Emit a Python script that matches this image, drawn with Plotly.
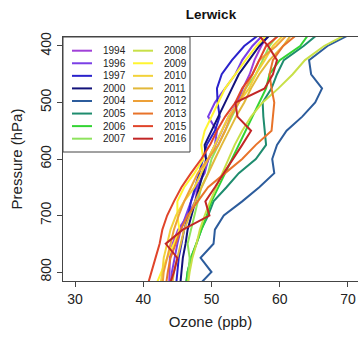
import plotly.graph_objects as go

pressure = [375, 400, 425, 450, 475, 500, 525, 550, 575, 600, 625, 650, 675, 700, 725, 750, 775, 800, 825]

years = ["1994", "1996", "1997", "2000", "2004", "2005", "2006", "2007",
         "2008", "2009", "2010", "2011", "2012", "2013", "2015", "2016"]

colors = ["#A040D8", "#7A3FE6", "#2A22CC", "#12127A", "#2C5C9C", "#1E8C6E", "#33D433", "#8EE35E",
          "#C8E048", "#FFF530", "#F2D23A", "#E2B83A", "#EDA038", "#E8732A", "#E0442A", "#C22626"]

o3_1994 = [58.5, 57.3, 56.3, 55.6, 54.6, 53.8, 52.5, 51.5, 50.5, 49.6, 48.8, 48.0, 47.6, 46.5, 45.1, 44.3, 43.9, 43.9, 43.8]
o3_1996 = [58.0, 56.0, 54.5, 53.5, 52.0, 50.5, 49.5, 50.8, 50.5, 49.5, 49.0, 47.8, 47.0, 46.2, 45.5, 45.0, 44.6, 44.2, 44.0]
o3_1997 = [57.5, 54.8, 53.0, 51.5, 50.8, 50.9, 51.2, 50.5, 49.3, 48.8, 48.2, 47.6, 47.0, 46.6, 46.0, 45.6, 45.2, 45.0, 44.8]
o3_2000 = [59.0, 57.0, 55.5, 54.0, 53.0, 52.0, 51.0, 50.0, 49.0, 49.2, 48.8, 48.2, 47.6, 47.0, 46.5, 46.2, 45.8, 45.6, 45.4]
o3_2004 = [71.0, 67.0, 64.3, 64.6, 66.2, 65.2, 63.3, 61.0, 59.6, 58.9, 59.2, 57.0, 54.5, 51.8, 50.5, 50.3, 48.4, 50.0, 48.0]
o3_2005 = [66.0, 63.5, 60.6, 59.6, 58.8, 57.5, 57.6, 57.8, 58.0, 56.5, 54.0, 52.2, 50.3, 49.5, 48.5, 47.8, 47.0, 46.5, 46.2]
o3_2006 = [64.5, 63.0, 60.0, 58.5, 58.0, 57.0, 56.0, 55.0, 54.0, 53.0, 52.0, 51.0, 50.0, 49.3, 48.5, 47.8, 47.0, 46.5, 46.3]
o3_2007 = [60.0, 58.5, 57.5, 56.5, 55.0, 54.0, 53.0, 52.0, 51.0, 50.0, 49.5, 48.5, 48.0, 47.5, 47.0, 46.5, 46.8, 46.6, 46.5]
o3_2008 = [70.5, 66.5, 63.7, 61.9, 59.8, 57.5, 55.8, 54.5, 53.4, 52.5, 51.5, 50.6, 49.8, 49.0, 48.3, 47.8, 47.2, 46.8, 46.5]
o3_2009 = [58.5, 56.6, 55.0, 53.5, 52.0, 51.0, 50.0, 49.0, 48.5, 48.8, 47.5, 46.0, 45.0, 45.0, 45.3, 44.5, 43.5, 42.6, 41.8]
o3_2010 = [61.0, 59.0, 57.8, 56.5, 55.5, 54.0, 52.5, 51.5, 50.5, 49.5, 48.5, 47.5, 46.0, 44.8, 44.0, 43.5, 43.0, 42.8, 42.5]
o3_2011 = [62.0, 60.5, 58.5, 57.0, 55.8, 54.8, 53.6, 52.5, 51.5, 50.5, 49.5, 48.6, 47.6, 46.8, 46.0, 45.5, 45.0, 44.5, 44.2]
o3_2012 = [61.5, 59.5, 57.0, 56.0, 55.0, 54.0, 52.8, 52.0, 51.0, 49.5, 48.0, 47.0, 46.0, 45.2, 44.5, 44.0, 43.5, 43.0, 42.8]
o3_2013 = [63.0, 60.5, 59.0, 58.5, 58.8, 59.2, 59.0, 58.8, 56.5, 54.5, 52.0, 49.5, 48.0, 46.5, 45.5, 44.8, 44.0, 43.6, 43.3]
o3_2015 = [60.5, 58.0, 57.0, 56.0, 54.5, 53.5, 52.0, 50.8, 49.8, 48.5, 47.0, 45.6, 44.5, 43.5, 42.8, 42.4, 41.8, 41.2, 40.6]
o3_2016 = [56.5, 58.3, 59.6, 59.0, 57.8, 53.5, 53.8, 55.8, 54.5, 53.1, 51.8, 50.5, 49.1, 49.7, 45.8, 43.3, 45.0, 44.5, 43.8]

series = [o3_1994, o3_1996, o3_1997, o3_2000, o3_2004, o3_2005, o3_2006, o3_2007,
          o3_2008, o3_2009, o3_2010, o3_2011, o3_2012, o3_2013, o3_2015, o3_2016]

x_ticks = [30, 40, 50, 60, 70]
y_ticks = [400, 500, 600, 700, 800]

FONT = "Liberation Sans, Arial, sans-serif"

fig = go.Figure()
for yr, col, vals in zip(years, colors, series):
    fig.add_trace(go.Scatter(x=vals, y=pressure, mode="lines", name=yr,
                             line=dict(color=col, width=2), showlegend=False))

# Manual two-column legend (R style), positioned in paper coordinates
L, R_, T, B = 63, 358, 37, 281
W, H = R_ - L, B - T
def px(x):
    return (x - L) / W
def py(y):
    return (B - y) / H

shapes = [dict(type="rect", xref="paper", yref="paper", x0=px(63), x1=px(190),
               y0=py(152), y1=py(37), line=dict(color="#444", width=1),
               fillcolor="white", layer="above")]
annotations = []
nrows = 8
for i, (yr, col) in enumerate(zip(years, colors)):
    c, r = divmod(i, nrows)
    yc = 50.7 + r * 12.57
    lx0 = 72 + c * 61
    shapes.append(dict(type="line", xref="paper", yref="paper", x0=px(lx0), x1=px(lx0 + 20),
                       y0=py(yc), y1=py(yc), line=dict(color=col, width=2), layer="above"))
    annotations.append(dict(text=yr, xref="paper", yref="paper", x=px(lx0 + 29), y=py(yc),
                            xanchor="left", yanchor="middle", showarrow=False,
                            font=dict(family=FONT, size=10, color="#222")))

fig.update_layout(
    width=358, height=339,
    margin=dict(l=63, r=0, t=37, b=58),
    plot_bgcolor="white", paper_bgcolor="white",
    title=dict(text="<b>Lerwick</b>", x=(211) / 358, xanchor="center", y=1 - 14 / 339, yanchor="middle",
               font=dict(family=FONT, size=13.5, color="#111")),
    xaxis=dict(range=[28.24, 71.47], tickvals=x_ticks, ticks="outside", ticklen=5,
               showline=True, mirror=True, linecolor="#444", linewidth=1, showgrid=False, zeroline=False,
               tickfont=dict(family=FONT, size=14, color="#222"),
               title=dict(text="Ozone (ppb)", font=dict(family=FONT, size=15, color="#222"), standoff=10)),
    yaxis=dict(range=[815.9, 384.1], tickvals=y_ticks, ticks="outside", ticklen=5, tickangle=-90,
               showline=True, mirror=True, linecolor="#444", linewidth=1, showgrid=False, zeroline=False,
               tickfont=dict(family=FONT, size=14, color="#222"),
               title=dict(text="Pressure (hPa)", font=dict(family=FONT, size=15, color="#222"), standoff=12)),
    shapes=shapes, annotations=annotations,
)

fig.write_html("out.html")
